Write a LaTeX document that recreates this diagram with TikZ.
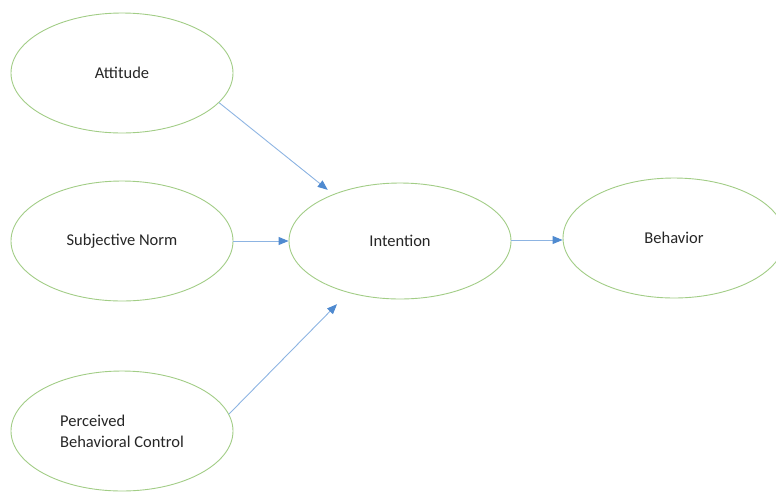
\documentclass[tikz,border=0pt]{standalone}
\usepackage{fontspec}
\setmainfont{Carlito}
\usepackage{xcolor}
\usetikzlibrary{arrows.meta,shapes.geometric}
\definecolor{ovalgreen}{HTML}{A2CD86}
\definecolor{linkblue}{HTML}{8DB4E2}
\definecolor{tipblue}{HTML}{4F8AD0}
\definecolor{inkgray}{HTML}{262626}
\tikzset{
  tpbnode/.style={ellipse,draw=ovalgreen,line width=0.9pt,fill=white,minimum width=222pt,minimum height=120pt,inner sep=0pt,font=\fontsize{16.5}{21}\selectfont,text=inkgray},
  tpbarrow/.style={-{Triangle[length=10pt,width=8pt,fill=tipblue,color=tipblue]},draw=linkblue,line width=0.9pt},
}

\begin{document}
\begin{tikzpicture}[x=1pt,y=-1pt]
    \useasboundingbox (0,0) rectangle (776,491);
    \node[tpbnode] (att) at (122,73) {Attitude};
    \node[tpbnode] (sn) at (122,241) {Subjective Norm};
    \node[tpbnode,align=left] (pbc) at (122,431) {Perceived\\Behavioral Control};
    \node[tpbnode,minimum height=116pt] (int) at (400,241) {Intention};
    \node[tpbnode] (beh) at (674,238) {Behavior};
    \draw[tpbarrow,shorten >=7pt] (att.-17)--(int.145);
    \draw[tpbarrow] (sn)--(int);
    \draw[tpbarrow,shorten >=16pt] (pbc.9)--(int.225);
    \draw[tpbarrow] ([yshift=1pt]int.east)--([yshift=1pt]int.east -| beh.west);
  \end{tikzpicture}
\end{document}
